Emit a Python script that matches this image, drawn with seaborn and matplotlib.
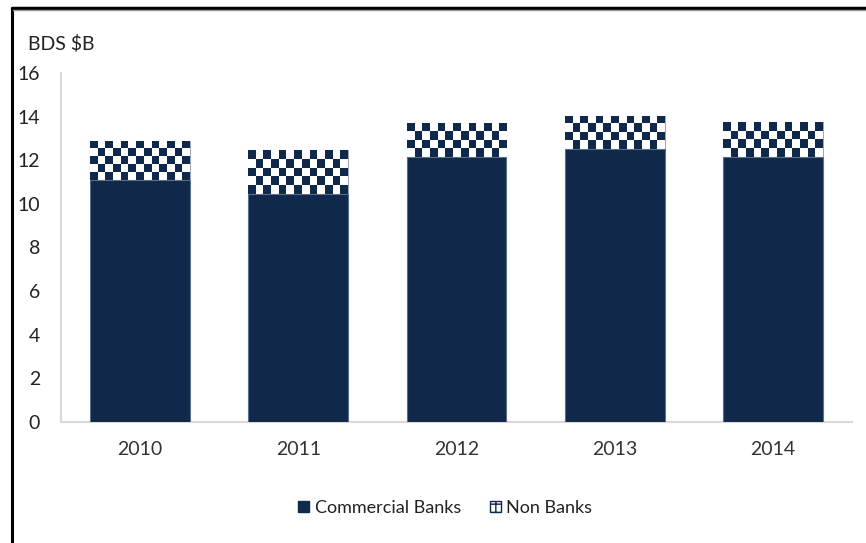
import matplotlib
matplotlib.use("Agg")
import matplotlib.pyplot as plt
import seaborn as sns
import numpy as np
import pandas as pd
from matplotlib.patches import Patch
from matplotlib.lines import Line2D

# 数据
years = ["2010", "2011", "2012", "2013", "2014"]
commercial = [11.1, 10.45, 12.15, 12.5, 12.15]
non_banks = [1.8, 2.0, 1.55, 1.55, 1.6]

navy = "#10284a"
grey_axis = "#d9d9d9"

sns.set_style("white")
plt.rcParams["font.family"] = ["Lato", "DejaVu Sans"]

df = pd.DataFrame({"year": years, "commercial": commercial, "non_banks": non_banks})
df["total"] = df["commercial"] + df["non_banks"]

fig = plt.figure(figsize=(8.66, 5.43), dpi=100)
ax = fig.add_axes([0.0704, 0.2228, 0.9134, 0.6428])

# 总量柱 (非银行部分的底色)
sns.barplot(data=df, x="year", y="total", color="white", width=0.63,
            saturation=1, edgecolor="#8a96a8", linewidth=0.6, ax=ax)
total_bars = list(ax.patches)

# 棋盘格纹理
for bar, c in zip(total_bars, df["commercial"]):
    x0 = bar.get_x()
    w = bar.get_width()
    top = bar.get_height()
    nx = int(round(w / 0.05))
    ny = max(1, int(round((top - c) / 0.37)))
    yy, xx = np.indices((ny, nx))
    checker = ((xx + yy + 1) % 2).astype(float)
    im = ax.imshow(checker, cmap=matplotlib.colors.ListedColormap(["white", navy]),
                   extent=[x0, x0 + w, c, top], origin="upper",
                   interpolation="nearest", aspect="auto", zorder=2)
    im.set_clip_path(bar)

# 商业银行柱
sns.barplot(data=df, x="year", y="commercial", color=navy, width=0.63,
            saturation=1, edgecolor="#5c6f89", linewidth=0.8, ax=ax, zorder=3)
for bar in ax.patches[len(total_bars):]:
    bar.set_zorder(3)

ax.set_xlim(-0.5, 4.5)
ax.set_ylim(0, 16)
ax.set_yticks(range(0, 17, 2))
ax.set_xlabel("")
ax.set_ylabel("")
ax.tick_params(axis="x", labelsize=14, length=0, pad=14, colors="#333333")
ax.tick_params(axis="y", labelsize=14, length=0, pad=15, colors="#222222")
for s in ["top", "right"]:
    ax.spines[s].set_visible(False)
for s in ["left", "bottom"]:
    ax.spines[s].set_color(grey_axis)
    ax.spines[s].set_linewidth(1.5)

fig.text(28 / 866, 1 - 44 / 543, "BDS $B", fontsize=14, va="center", ha="left", color="#222222")

handles = [Patch(facecolor=navy, edgecolor=navy),
           Patch(facecolor="white", edgecolor=navy, hatch="++")]
fig.legend(handles, ["Commercial Banks", "Non Banks"], loc="center",
           bbox_to_anchor=(0.514, 1 - 508 / 543), ncol=2, frameon=False,
           fontsize=13, handlelength=0.6, handleheight=0.6, handletextpad=0.3,
           columnspacing=1.6, labelcolor="#222222")

# 外框线
fig.add_artist(Line2D([12 / 866, 12 / 866], [0, 1 - 8 / 543], color="black", lw=2.2))
fig.add_artist(Line2D([12 / 866, 1], [1 - 8 / 543, 1 - 8 / 543], color="black", lw=2.5))
fig.add_artist(Line2D([13 / 866, 1], [1 - 10 / 543, 1 - 10 / 543], color="#9a9a9a", lw=1))

fig.savefig("out.png", dpi=100)
